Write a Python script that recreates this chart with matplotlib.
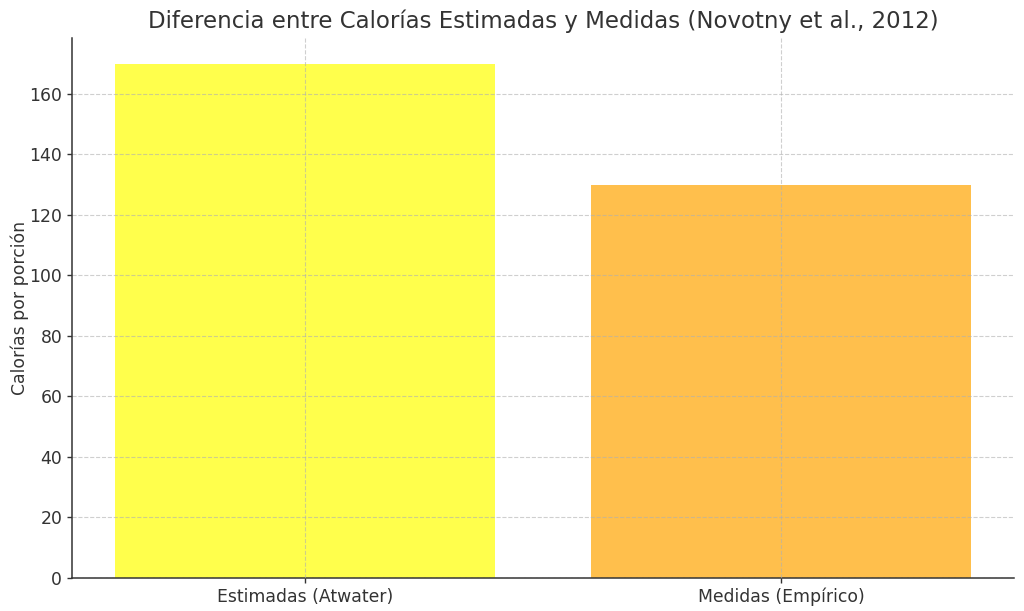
import matplotlib
matplotlib.use("Agg")
import matplotlib.pyplot as plt

categories = ["Estimadas (Atwater)", "Medidas (Empírico)"]
values = [170, 130]
colors = ["yellow", "orange"]

plt.rcParams['text.color'] = '#333333'
plt.rcParams['axes.labelcolor'] = '#333333'
plt.rcParams['xtick.color'] = '#333333'
plt.rcParams['ytick.color'] = '#333333'

fig = plt.figure(figsize=(10.24, 6.11), dpi=100)
ax = fig.add_axes([72/1024, 1 - 578/611, (1014-72)/1024, (578-38)/611])
ax.bar(categories, values, color=colors, alpha=0.7, width=0.8)
ax.set_title("Diferencia entre Calorías Estimadas y Medidas (Novotny et al., 2012)", fontsize=16.5, color='#333333', pad=7)
ax.set_ylabel("Calorías por porción", fontsize=12.4, labelpad=0)
ax.tick_params(labelsize=12.4, width=1.0, length=3.6)
ax.grid(True, linestyle='--', alpha=0.6, linewidth=0.8)
ax.set_axisbelow(False)
for s in ['top', 'right']:
    ax.spines[s].set_visible(False)
for s in ['left', 'bottom']:
    ax.spines[s].set_color('#333333')
    ax.spines[s].set_linewidth(1.1)
fig.savefig("out.png", dpi=100)
